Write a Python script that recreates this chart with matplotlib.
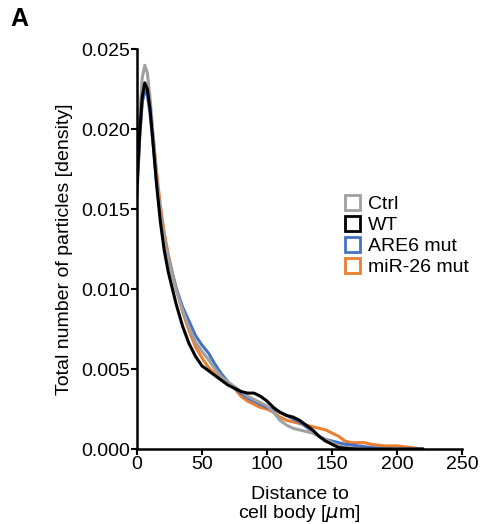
import matplotlib
matplotlib.use('Agg')
import matplotlib.pyplot as plt
from matplotlib.patches import Patch

plt.rcParams['font.family'] = ['Liberation Sans', 'DejaVu Sans']

# distance grid (um) and density values
distance = [0, 2, 4, 6, 8, 10, 12, 15, 18, 21, 24, 27, 30, 35, 40, 45, 50, 55, 60, 65,
            70, 75, 80, 85, 90, 95, 100, 105, 110, 115, 120, 125, 130, 135, 140, 145,
            150, 155, 160, 165, 170, 175, 180, 190, 200, 210, 220]

ctrl = [0.0170, 0.0207, 0.0232, 0.0240, 0.0235, 0.0220, 0.0200, 0.0170, 0.0148, 0.0132,
        0.0120, 0.0110, 0.0100, 0.0087, 0.0076, 0.0067, 0.0061, 0.0056, 0.0050, 0.0045,
        0.0042, 0.0039, 0.0036, 0.0033, 0.0031, 0.0029, 0.0027, 0.0023, 0.0018, 0.0015,
        0.0013, 0.0012, 0.0011, 0.0010, 0.0008, 0.0006, 0.0004, 0.0002, 0.0001, 0.00005,
        0.00003, 0.0, 0.0, 0.0, 0.0, 0.0, 0.0]

wt = [0.0165, 0.0197, 0.0220, 0.0229, 0.0225, 0.0213, 0.0195, 0.0166, 0.0142, 0.0124,
      0.0111, 0.0101, 0.0091, 0.0077, 0.0066, 0.0058, 0.0052, 0.0049, 0.0046, 0.0043,
      0.0040, 0.0038, 0.0036, 0.0035, 0.0035, 0.0033, 0.0030, 0.0026, 0.0023, 0.0021,
      0.0020, 0.0018, 0.0015, 0.0012, 0.0008, 0.0005, 0.0003, 0.0001, 0.00005, 0.00002,
      0.0, 0.0, 0.0, 0.0, 0.0, 0.0, 0.0]

are6 = [0.0160, 0.0194, 0.0217, 0.0224, 0.0221, 0.0210, 0.0194, 0.0168, 0.0146, 0.0131,
        0.0120, 0.0110, 0.0101, 0.0089, 0.0080, 0.0071, 0.0065, 0.0060, 0.0053, 0.0047,
        0.0042, 0.0038, 0.0035, 0.0032, 0.0030, 0.0028, 0.0026, 0.0025, 0.0023, 0.0021,
        0.0019, 0.0017, 0.0014, 0.0011, 0.0008, 0.0006, 0.0005, 0.0004, 0.0003, 0.00025,
        0.0002, 0.00015, 0.0001, 0.00003, 0.0, 0.0, 0.0]

mir26 = [0.0160, 0.0194, 0.0217, 0.0225, 0.0223, 0.0214, 0.0199, 0.0174, 0.0152, 0.0135,
         0.0122, 0.0111, 0.0101, 0.0086, 0.0074, 0.0064, 0.0057, 0.0051, 0.0047, 0.0044,
         0.0041, 0.0038, 0.0033, 0.0030, 0.0028, 0.0026, 0.0025, 0.0023, 0.0020, 0.0018,
         0.0017, 0.0016, 0.0015, 0.0014, 0.0013, 0.0012, 0.0010, 0.0008, 0.0005, 0.0004,
         0.0004, 0.0004, 0.0003, 0.0002, 0.0002, 0.0001, 0.0]

SERIES = [
    ('Ctrl', ctrl, '#a0a0a0'),
    ('WT', wt, '#000000'),
    ('ARE6 mut', are6, '#4472c4'),
    ('miR-26 mut', mir26, '#ed7d31'),
]
FS = 14

fig = plt.figure(figsize=(4.91, 5.24), dpi=100)
ax = fig.add_axes([0.279, 0.143, 0.662, 0.763])

# draw order: orange/blue below, grey, black on top
for name, vals, color in [SERIES[3], SERIES[2], SERIES[0], SERIES[1]]:
    ax.plot(distance, vals, color=color, linewidth=2.2, solid_capstyle='round',
            solid_joinstyle='round')

ax.set_xlim(0, 250)
ax.set_ylim(0, 0.025)
ax.set_xticks([0, 50, 100, 150, 200, 250])
ax.set_yticks([0.000, 0.005, 0.010, 0.015, 0.020, 0.025])
ax.set_yticklabels(['0.000', '0.005', '0.010', '0.015', '0.020', '0.025'])
ax.spines['top'].set_visible(False)
ax.spines['right'].set_visible(False)
for s in ('left', 'bottom'):
    ax.spines[s].set_linewidth(1.8)
ax.tick_params(width=1.5, length=4, labelsize=FS, pad=1)

ax.set_xlabel('Distance to\ncell body [$\\mu$m]', fontsize=FS, labelpad=9,
              linespacing=1.0)
ax.set_ylabel('Total number of particles [density]', fontsize=FS, labelpad=6)

handles = [Patch(facecolor='white', edgecolor=c, linewidth=2, label=n) for n, _, c in SERIES]
ax.legend(handles=handles, loc='upper left', bbox_to_anchor=(0.615, 0.655), frameon=False,
          fontsize=FS, handlelength=0.8, handleheight=0.8, handletextpad=0.4,
          labelspacing=0.15, borderaxespad=0)

fig.text(0.022, 0.987, 'A', fontsize=18, fontweight='bold', va='top', ha='left')

fig.savefig('out.png', dpi=100)
